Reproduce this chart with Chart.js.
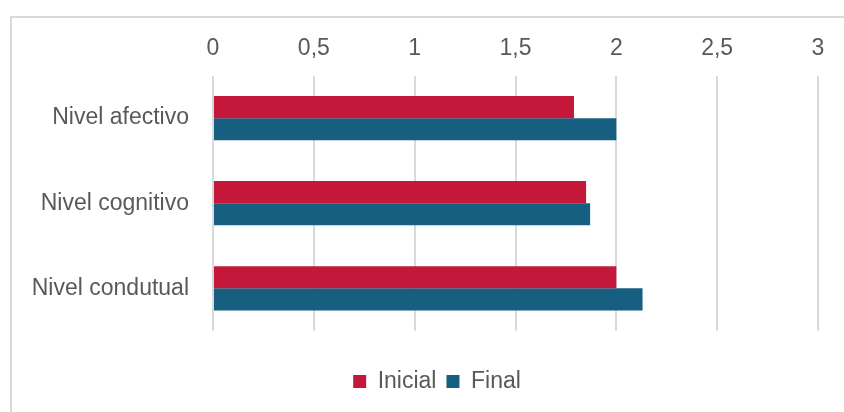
<!DOCTYPE html>
<html>
<head>
<meta charset="utf-8">
<script src="https://cdn.jsdelivr.net/npm/chart.js@4.4.1/dist/chart.umd.min.js"></script>
<style>
  html, body { margin: 0; padding: 0; background: #fff; }
  #wrap { position: relative; width: 844px; height: 412px; overflow: hidden; }
  #frame { position: absolute; left: 10px; top: 16px; width: 900px; height: 460px;
           border: 2px solid #d9d9d9; box-sizing: border-box; }
  #c { position: absolute; left: 0; top: 0; }
</style>
</head>
<body>
<div id="wrap">
  <div id="frame"></div>
  <canvas id="c" width="844" height="412"></canvas>
</div>
<script>
// data
var categories = ['Nivel afectivo', 'Nivel cognitivo', 'Nivel condutual'];
var inicial = [1.79, 1.85, 2.0];
var final = [2.0, 1.87, 2.13];
var xTicks = [0, 0.5, 1, 1.5, 2, 2.5, 3];

var textColor = '#595959';
var gridColor = '#d9d9d9';
var fontFam = '"Liberation Sans", Arial, sans-serif';

// legend sits a bit right of centre in the original
var shiftLegend = {
    id: 'shiftLegend',
    afterLayout: function (chart) {
        chart.legend.left += 23;
        chart.legend.right += 23;
    }
};

var ctx = document.getElementById('c');
var chart = new Chart(ctx, {
    type: 'bar',
    data: {
        labels: categories,
        datasets: [{
            label: 'Inicial',
            data: inicial,
            backgroundColor: '#c4183a',
            borderWidth: 0
        }, {
            label: 'Final',
            data: final,
            backgroundColor: '#175f80',
            borderWidth: 0
        }]
    },
    options: {
        indexAxis: 'y',
        responsive: false,
        animation: false,
        layout: { padding: { left: 10, right: 26, top: 22, bottom: 9 } },
        scales: {
            x: {
                position: 'top',
                min: 0,
                max: 3,
                afterBuildTicks: function (s) {
                    s.ticks = xTicks.map(function (v) { return { value: v }; });
                },
                grid: { color: gridColor, lineWidth: 2, drawTicks: false },
                border: { display: false },
                ticks: {
                    padding: 13,
                    color: textColor,
                    font: { family: fontFam, size: 23 },
                    callback: function (v) { return String(v).replace('.', ','); }
                }
            },
            y: {
                grid: { display: false },
                border: { display: false },
                afterFit: function (s) { s.width = 203; },
                ticks: {
                    padding: 16,
                    color: textColor,
                    font: { family: fontFam, size: 23 }
                }
            }
        },
        datasets: {
            bar: { categoryPercentage: 0.52, barPercentage: 1 }
        },
        plugins: {
            tooltip: { enabled: false },
            legend: {
                position: 'bottom',
                title: { display: true, text: '', font: { size: 1 }, padding: { top: 28, bottom: 0 } },
                labels: {
                    boxWidth: 13,
                    boxHeight: 13,
                    padding: 10,
                    color: textColor,
                    font: { family: fontFam, size: 23 }
                }
            }
        }
    },
    plugins: [shiftLegend]
});
</script>
</body>
</html>
